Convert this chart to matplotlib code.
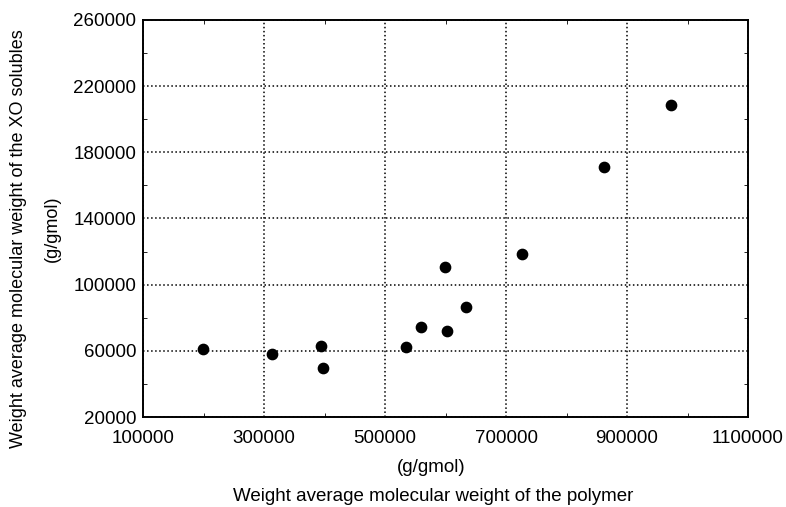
import numpy as np
import matplotlib.pyplot as plt
from matplotlib.ticker import MultipleLocator, FormatStrFormatter

plt.rcParams['font.family'] = ['Liberation Sans', 'DejaVu Sans']

# polymer Mw vs XO solubles Mw (g/gmol)
mw_polymer = [199000, 313000, 394000, 397000, 534000, 559500,
              602000, 598700, 634000, 727000, 862000, 972700]
mw_solubles = [61000, 58000, 62900, 49600, 62100, 74600,
               72100, 110400, 86500, 118300, 171000, 208900]

fig = plt.figure(figsize=(7.86, 5.07), dpi=100)
ax = fig.add_axes([0.182, 0.1775, 0.7697, 0.7831])

ax.scatter(mw_polymer, mw_solubles, s=55, color='black', zorder=3)

ax.set_xlim(100000, 1100000)
ax.set_ylim(20000, 260000)
ax.set_xticks(np.arange(100000, 1100001, 200000))
ax.set_yticks(np.arange(20000, 260001, 40000))
ax.xaxis.set_major_formatter(FormatStrFormatter('%d'))
ax.yaxis.set_major_formatter(FormatStrFormatter('%d'))
ax.yaxis.set_minor_locator(MultipleLocator(20000))
ax.xaxis.set_minor_locator(MultipleLocator(100000))

ax.grid(True, which='major', linestyle=':', color='black', linewidth=1.1)
ax.tick_params(which='major', length=0, labelsize=13.5)
ax.tick_params(axis='x', which='major', pad=9)
ax.tick_params(axis='y', which='major', pad=5)
ax.tick_params(which='minor', direction='in', length=3, right=True, top=True)
for s in ax.spines.values():
    s.set_linewidth(1.4)

fig.text(0.548, 0.077, '(g/gmol)', ha='center', va='center', fontsize=13.5)
fig.text(0.551, 0.02, 'Weight average molecular weight of the polymer',
         ha='center', va='center', fontsize=13.5)
fig.text(0.024, 0.53, 'Weight average molecular weight of the XO solubles',
         ha='center', va='center', rotation=90, fontsize=13)
fig.text(0.066, 0.548, '(g/gmol)', ha='center', va='center', rotation=90,
         fontsize=13)

fig.savefig('out.png', dpi=100)
